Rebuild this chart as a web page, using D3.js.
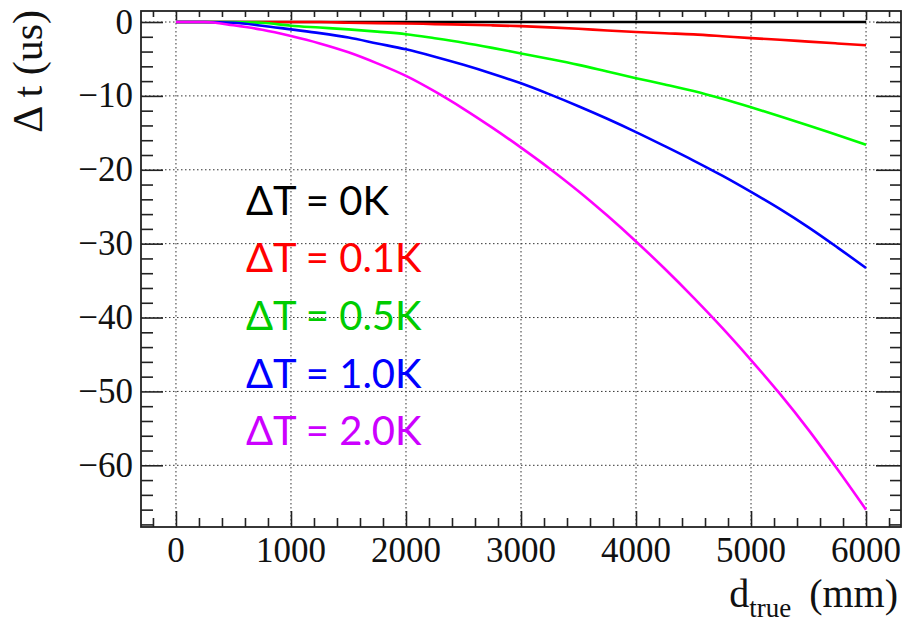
<!DOCTYPE html>
<html>
<head>
<meta charset="utf-8">
<script src="https://cdn.jsdelivr.net/npm/d3@7"></script>
<style>
  html, body { margin: 0; padding: 0; background: #fff; }
  svg { display: block; }
</style>
</head>
<body>
<svg id="chart" width="904" height="623"></svg>
<script>
// ---- data ----
const distances = [0, 250, 500, 750, 1000, 1250, 1500, 1750, 2000, 2250, 2500, 2750, 3000, 3250, 3500, 3750, 4000, 4250, 4500, 4750, 5000, 5250, 5500, 5750, 6000];
const dT0K   = [0, 0, 0, 0, 0, 0, 0, 0, 0, 0, 0, 0, 0, 0, 0, 0, 0, 0, 0, 0, 0, 0, 0, 0, 0];
const dT01K  = [0, 0, 0, 0, 0, 0, -0.1, -0.15, -0.2, -0.28, -0.36, -0.45, -0.56, -0.72, -0.92, -1.15, -1.35, -1.52, -1.68, -1.92, -2.18, -2.4, -2.65, -2.9, -3.15];
const dT05K  = [0, 0, 0, -0.1, -0.5, -0.75, -1.0, -1.3, -1.65, -2.2, -2.8, -3.5, -4.25, -5.0, -5.8, -6.7, -7.6, -8.45, -9.35, -10.4, -11.55, -12.75, -14.0, -15.3, -16.6];
const dT10K  = [0, 0, -0.1, -0.5, -1.0, -1.5, -2.1, -2.9, -3.7, -4.7, -5.8, -7.0, -8.3, -9.8, -11.4, -13.1, -14.9, -16.8, -18.75, -20.8, -23.0, -25.3, -27.8, -30.5, -33.3];
const dT20K  = [0, 0, -0.45, -1.05, -1.9, -2.9, -4.1, -5.6, -7.3, -9.4, -11.75, -14.3, -17.0, -19.85, -22.9, -26.2, -29.7, -33.4, -37.3, -41.4, -45.75, -50.3, -55.2, -60.5, -66.0];
const seriesLabels = ["ΔT = 0K", "ΔT = 0.1K", "ΔT = 0.5K", "ΔT = 1.0K", "ΔT = 2.0K"];
const seriesValues = [dT0K, dT01K, dT05K, dT10K, dT20K];
const lineColors   = ["#000000", "#ff0000", "#00ff00", "#0000ff", "#ff00ff"];
const labelColors  = ["#000000", "#ff0000", "#00cc00", "#0000ff", "#cc00ff"];
const xMajorTicks = [0, 1000, 2000, 3000, 4000, 5000, 6000];
const yMajorTicks = [0, -10, -20, -30, -40, -50, -60];
const xTitle = "d";
const xTitleSub = "true";
const xTitleUnit = "(mm)";
const yTitle = "Δ t (us)";

// ---- layout ----
const L = 141, R = 901, T = 11, B = 527;
const svg = d3.select("#chart");
const x = d3.scaleLinear().domain([-304, 6304]).range([L, R]);
const y = d3.scaleLinear().domain([-68.35, 1.49]).range([B, T]);
const serif = "'Liberation Serif', 'Times New Roman', serif";

const xMinor = d3.range(-200, 6301, 200).filter(v => v % 1000 !== 0);
const yMinor = d3.range(0, -69, -2).filter(v => v % 10 !== 0);

// grid
const grid = svg.append("g").attr("stroke", "#333").attr("stroke-width", 1)
  .attr("stroke-dasharray", "1.5,2.5").attr("fill", "none");
xMajorTicks.forEach(v => grid.append("line")
  .attr("x1", x(v)).attr("x2", x(v)).attr("y1", T).attr("y2", B));
yMajorTicks.forEach(v => grid.append("line")
  .attr("x1", L).attr("x2", R).attr("y1", y(v)).attr("y2", y(v)));

// curves
const line = d3.line().x(d => x(d[0])).y(d => y(d[1])).curve(d3.curveMonotoneX);
seriesValues.forEach((vals, i) => {
  svg.append("path")
    .datum(distances.map((dd, j) => [dd, vals[j]]))
    .attr("d", line)
    .attr("fill", "none")
    .attr("stroke", lineColors[i])
    .attr("stroke-width", 2.6);
});

// axes (ROOT-like inward ticks)
function ticks(axisFn, pos, vals, size) {
  svg.append("g").attr("transform", pos)
    .call(axisFn.tickValues(vals).tickSize(size).tickFormat(""))
    .call(g => g.select(".domain").remove())
    .selectAll("line").attr("stroke", "#222").attr("stroke-width", 1.6);
}
ticks(d3.axisBottom(x), `translate(0,${B})`, xMajorTicks, -16);
ticks(d3.axisBottom(x), `translate(0,${B})`, xMinor, -9);
ticks(d3.axisTop(x), `translate(0,${T})`, xMajorTicks, -9);
ticks(d3.axisTop(x), `translate(0,${T})`, xMinor, -6);
ticks(d3.axisLeft(y), `translate(${L},0)`, yMajorTicks, -22);
ticks(d3.axisLeft(y), `translate(${L},0)`, yMinor, -12);
ticks(d3.axisRight(y), `translate(${R},0)`, yMajorTicks, -25);
ticks(d3.axisRight(y), `translate(${R},0)`, yMinor, -11);

// frame
svg.append("rect").attr("x", L).attr("y", T).attr("width", R - L).attr("height", B - T)
  .attr("fill", "none").attr("stroke", "#222").attr("stroke-width", 1.8);

// tick labels
const fmtY = v => (v < 0 ? "\u2212" + Math.abs(v) : String(v));
svg.append("g").selectAll("text").data(xMajorTicks).join("text")
  .attr("x", d => x(d)).attr("y", 562)
  .attr("text-anchor", "middle")
  .attr("font-family", serif).attr("font-size", 35).attr("fill", "#111")
  .text(d => d);
svg.append("g").selectAll("text").data(yMajorTicks).join("text")
  .attr("x", 133).attr("y", d => y(d) + 11.5)
  .attr("text-anchor", "end")
  .attr("font-family", serif).attr("font-size", 35).attr("fill", "#111")
  .text(fmtY);

// axis titles
const xt = svg.append("text").attr("x", 898).attr("y", 607)
  .attr("text-anchor", "end").attr("font-family", serif).attr("font-size", 40).attr("fill", "#111");
xt.append("tspan").text(xTitle);
xt.append("tspan").attr("font-size", 27).attr("dy", 10).text(xTitleSub);
xt.append("tspan").attr("dy", -10).attr("dx", 18).text(xTitleUnit);

svg.append("text")
  .attr("transform", "translate(42,10) rotate(-90)")
  .attr("text-anchor", "end").attr("font-family", serif).attr("font-size", 42).attr("fill", "#111")
  .text(yTitle);

// legend labels
const legendBaselines = [215, 272, 330, 388, 445];
svg.append("g").selectAll("text").data(seriesLabels).join("text")
  .attr("x", 246).attr("y", (d, i) => legendBaselines[i])
  .attr("font-family", "Lato, 'Open Sans', sans-serif").attr("font-size", 40)
  .attr("fill", (d, i) => labelColors[i])
  .text(d => d);
</script>
</body>
</html>
